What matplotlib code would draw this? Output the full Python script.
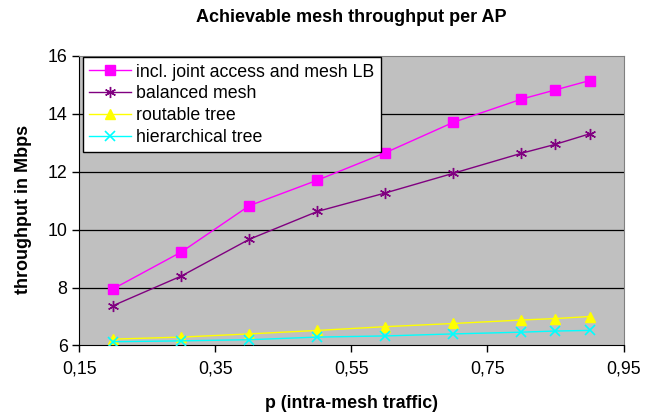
import matplotlib.pyplot as plt
import matplotlib.ticker as mticker

plt.rcParams['font.family'] = ['Liberation Sans', 'DejaVu Sans']

# traffic share p and throughput per AP in Mbps
p = [0.2, 0.3, 0.4, 0.5, 0.6, 0.7, 0.8, 0.85, 0.9]
joint_lb = [7.96, 9.23, 10.83, 11.71, 12.66, 13.71, 14.51, 14.83, 15.15]
balanced = [7.38, 8.40, 9.67, 10.63, 11.27, 11.95, 12.64, 12.95, 13.31]
routable = [6.22, 6.29, 6.40, 6.52, 6.65, 6.76, 6.88, 6.93, 7.00]
hierarchical = [6.13, 6.16, 6.20, 6.29, 6.33, 6.40, 6.46, 6.50, 6.52]

xticks = [0.15, 0.35, 0.55, 0.75, 0.95]
yticks = [6, 8, 10, 12, 14, 16]

fig = plt.figure(figsize=(6.54, 4.16), dpi=100)
ax = fig.add_axes([0.1213, 0.1695, 0.8321, 0.6959])
ax.set_facecolor('#C0C0C0')

# horizontal grid lines
for y in yticks[1:-1]:
    ax.axhline(y, color='black', linewidth=0.9, zorder=1)

ax.plot(p, joint_lb, color='#FF00FF', marker='s', markersize=6.5, linewidth=1,
        label='incl. joint access and mesh LB', zorder=3)
ax.plot(p, balanced, color='#800080', marker=(6, 2, 0), markersize=8, markeredgewidth=1,
        linewidth=1, label='balanced mesh', zorder=3)
ax.plot(p, routable, color='#FFFF00', marker='^', markersize=7, linewidth=1,
        label='routable tree', zorder=3)
ax.plot(p, hierarchical, color='#00FFFF', marker='x', markersize=6.5, markeredgewidth=1.2,
        linewidth=1, label='hierarchical tree', zorder=3)

ax.set_xlim(0.15, 0.95)
ax.set_ylim(6, 16)
ax.set_xticks(xticks)
ax.set_yticks(yticks)
ax.xaxis.set_major_formatter(mticker.FuncFormatter(lambda v, pos: ('%.2f' % v).replace('.', ',')))
ax.tick_params(axis='both', labelsize=12.8, direction='out', length=5, width=1, color='black')
ax.tick_params(axis='x', pad=6)

for side in ['top', 'right']:
    ax.spines[side].set_color('#808080')
for side in ['left', 'bottom']:
    ax.spines[side].set_color('black')

fig.text(0.537, 1 - 17 / 416, 'Achievable mesh throughput per AP', fontsize=13,
         fontweight='bold', ha='center', va='center')
fig.text(0.537, 1 - 404 / 416, 'p (intra-mesh traffic)', fontsize=12.8,
         fontweight='bold', ha='center', va='center')
fig.text(24 / 654, 1 - 209 / 416, 'throughput in Mbps', fontsize=13,
         fontweight='bold', ha='center', va='center', rotation=90)

leg = ax.legend(loc='upper left', bbox_to_anchor=(0.007, 0.995), fontsize=12.8, frameon=True,
                fancybox=False, framealpha=1, edgecolor='black', borderpad=0.35,
                labelspacing=0.27, handlelength=2.35, handletextpad=0.3, borderaxespad=0)
leg.get_frame().set_linewidth(1)

fig.savefig('out.png', dpi=100)
